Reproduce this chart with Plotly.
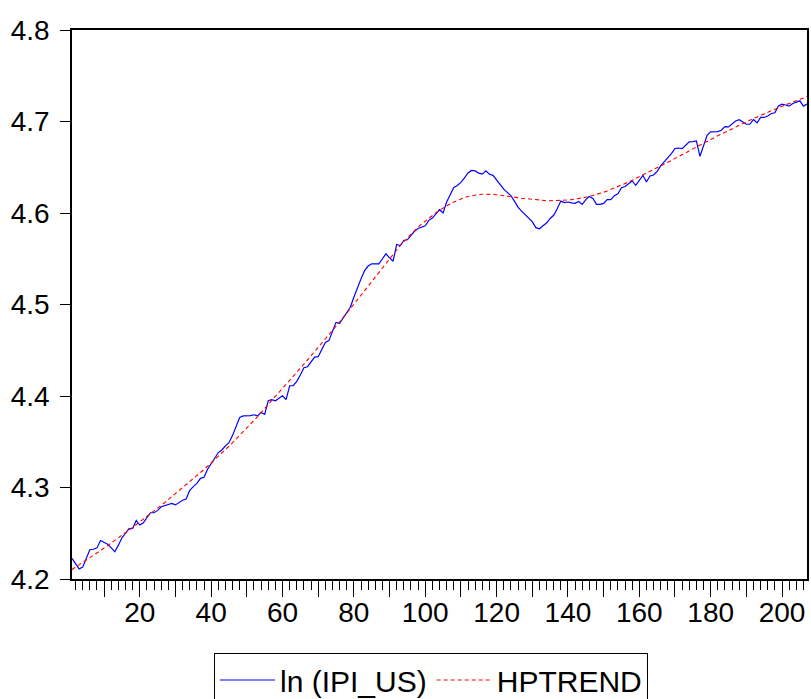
import plotly.graph_objects as go

obs = list(range(1, 208))

ln_ipi_us = [
    4.2225, 4.2160, 4.2110, 4.2130, 4.2220, 4.2320, 4.2325, 4.2340, 4.2420, 4.2400,
    4.2380, 4.2340, 4.2297, 4.2370, 4.2450, 4.2500, 4.2550, 4.2553, 4.2640, 4.2590,
    4.2615, 4.2670, 4.2724, 4.2724, 4.2750, 4.2790, 4.2805, 4.2820, 4.2827, 4.2810,
    4.2840, 4.2860, 4.2875, 4.2970, 4.3010, 4.3045, 4.3100, 4.3112, 4.3200, 4.3254,
    4.3320, 4.3382, 4.3410, 4.3455, 4.3490, 4.3570, 4.3674, 4.3765, 4.3783, 4.3783,
    4.3785, 4.3795, 4.3783, 4.3820, 4.3800, 4.3948, 4.3960, 4.3948, 4.3975, 4.4002,
    4.3960, 4.4112, 4.4112, 4.4160, 4.4230, 4.4310, 4.4320, 4.4370, 4.4425, 4.4430,
    4.4510, 4.4586, 4.4605, 4.4715, 4.4805, 4.4795, 4.4850, 4.4910, 4.4970, 4.5080,
    4.5190, 4.5280, 4.5370, 4.5420, 4.5445, 4.5445, 4.5445, 4.5500, 4.5554, 4.5510,
    4.5473, 4.5656, 4.5645, 4.5700, 4.5707, 4.5755, 4.5800, 4.5830, 4.5848, 4.5860,
    4.5920, 4.5944, 4.5990, 4.6036, 4.6000, 4.6120, 4.6200, 4.6280, 4.6300, 4.6335,
    4.6385, 4.6437, 4.6465, 4.6460, 4.6435, 4.6425, 4.6460, 4.6423, 4.6412, 4.6360,
    4.6310, 4.6260, 4.6225, 4.6190, 4.6130, 4.6065, 4.6020, 4.5980, 4.5945, 4.5905,
    4.5840, 4.5828, 4.5860, 4.5890, 4.5940, 4.5975, 4.6047, 4.6130, 4.6113, 4.6120,
    4.6110, 4.6105, 4.6125, 4.6094, 4.6146, 4.6180, 4.6160, 4.6094, 4.6094, 4.6105,
    4.6146, 4.6146, 4.6190, 4.6211, 4.6277, 4.6290, 4.6320, 4.6350, 4.6302, 4.6357,
    4.6412, 4.6339, 4.6405, 4.6415, 4.6455, 4.6515, 4.6555, 4.6605, 4.6650, 4.6705,
    4.6710, 4.6704, 4.6740, 4.6777, 4.6780, 4.6788, 4.6620, 4.6745, 4.6850, 4.6886,
    4.6886, 4.6890, 4.6905, 4.6945, 4.6941, 4.6970, 4.7005, 4.7020, 4.6990, 4.6970,
    4.6970, 4.7022, 4.6985, 4.7044, 4.7044, 4.7060, 4.7088, 4.7095, 4.7170, 4.7190,
    4.7180, 4.7168, 4.7197, 4.7210, 4.7226, 4.7168, 4.7190,
]

hptrend = [
    4.2104, 4.2129, 4.2154, 4.2180, 4.2206, 4.2232, 4.2258, 4.2284, 4.2311, 4.2338,
    4.2365, 4.2393, 4.2421, 4.2449, 4.2477, 4.2506, 4.2535, 4.2564, 4.2593, 4.2622,
    4.2652, 4.2682, 4.2712, 4.2743, 4.2774, 4.2805, 4.2836, 4.2868, 4.2900, 4.2932,
    4.2964, 4.2996, 4.3029, 4.3062, 4.3095, 4.3129, 4.3163, 4.3197, 4.3232, 4.3267,
    4.3303, 4.3339, 4.3376, 4.3413, 4.3451, 4.3490, 4.3529, 4.3569, 4.3609, 4.3650,
    4.3691, 4.3733, 4.3775, 4.3818, 4.3861, 4.3905, 4.3948, 4.3992, 4.4036, 4.4080,
    4.4124, 4.4168, 4.4213, 4.4258, 4.4303, 4.4348, 4.4393, 4.4438, 4.4484, 4.4530,
    4.4576, 4.4622, 4.4668, 4.4715, 4.4762, 4.4809, 4.4857, 4.4905, 4.4953, 4.5001,
    4.5050, 4.5099, 4.5148, 4.5198, 4.5248, 4.5298, 4.5348, 4.5399, 4.5450, 4.5505,
    4.5553, 4.5600, 4.5645, 4.5688, 4.5730, 4.5770, 4.5808, 4.5845, 4.5880, 4.5913,
    4.5945, 4.5975, 4.6003, 4.6030, 4.6055, 4.6078, 4.6100, 4.6120, 4.6138, 4.6154,
    4.6168, 4.6180, 4.6190, 4.6197, 4.6202, 4.6205, 4.6206, 4.6205, 4.6203, 4.6200,
    4.6196, 4.6191, 4.6186, 4.6180, 4.6174, 4.6168, 4.6162, 4.6157, 4.6152, 4.6147,
    4.6143, 4.6140, 4.6137, 4.6135, 4.6134, 4.6134, 4.6134, 4.6136, 4.6139, 4.6142,
    4.6146, 4.6151, 4.6157, 4.6164, 4.6172, 4.6181, 4.6191, 4.6202, 4.6214, 4.6227,
    4.6241, 4.6256, 4.6271, 4.6287, 4.6304, 4.6321, 4.6339, 4.6357, 4.6376, 4.6395,
    4.6415, 4.6435, 4.6455, 4.6475, 4.6495, 4.6515, 4.6535, 4.6555, 4.6575, 4.6595,
    4.6616, 4.6637, 4.6658, 4.6679, 4.6700, 4.6721, 4.6742, 4.6763, 4.6784, 4.6804,
    4.6824, 4.6844, 4.6864, 4.6883, 4.6902, 4.6921, 4.6940, 4.6959, 4.6978, 4.6997,
    4.7015, 4.7033, 4.7051, 4.7068, 4.7085, 4.7102, 4.7119, 4.7135, 4.7151, 4.7167,
    4.7183, 4.7198, 4.7213, 4.7228, 4.7243, 4.7258, 4.7272,
]

x_tick_vals = list(range(10, 210, 10))
x_tick_text = [str(v) if v % 20 == 0 else "" for v in x_tick_vals]
y_tick_vals = [4.2, 4.3, 4.4, 4.5, 4.6, 4.7, 4.8]
y_tick_text = ["4.2", "4.3", "4.4", "4.5", "4.6", "4.7", "4.8"]

FONT = "Liberation Sans, Arial, sans-serif"

fig = go.Figure()
fig.add_trace(go.Scatter(
    x=obs, y=ln_ipi_us, mode="lines", name="ln (IPI_US)",
    line=dict(color="#0000FF", width=1.2),
))
fig.add_trace(go.Scatter(
    x=obs, y=hptrend, mode="lines", name="HPTREND",
    line=dict(color="#FF0000", width=1.1, dash="4px,3px"),
))

fig.update_layout(
    width=811, height=699,
    margin=dict(l=72, r=4, t=30, b=120, autoexpand=False),
    paper_bgcolor="white", plot_bgcolor="white",
    font=dict(family=FONT, color="black", size=28),
    showlegend=True,
    legend=dict(
        orientation="h", x=(214 - 72) / 735, xanchor="left",
        y=(579 - 653) / 549, yanchor="top",
        bordercolor="black", borderwidth=1, bgcolor="white",
        font=dict(family=FONT, size=30, color="black"),
        itemwidth=55, tracegroupgap=0,
    ),
    xaxis=dict(
        range=[1, 207], showgrid=False, zeroline=False,
        showline=True, linecolor="black", linewidth=1.5, mirror=True,
        tickmode="array", tickvals=x_tick_vals, ticktext=x_tick_text,
        ticks="outside", ticklen=16, tickwidth=1, tickcolor="black",
        ticklabelstandoff=-8,
        tickfont=dict(family=FONT, size=28, color="black"),
        minor=dict(dtick=2, tick0=0, ticks="outside", ticklen=9,
                   tickwidth=1, tickcolor="black", showgrid=False),
    ),
    yaxis=dict(
        range=[4.2, 4.8], showgrid=False, zeroline=False,
        showline=True, linecolor="black", linewidth=1.5, mirror=True,
        tickmode="array", tickvals=y_tick_vals, ticktext=y_tick_text,
        ticks="outside", ticklen=10, tickwidth=1, tickcolor="black",
        ticklabelstandoff=5,
        tickfont=dict(family=FONT, size=28, color="black"),
    ),
)

fig.write_html("out.html")
